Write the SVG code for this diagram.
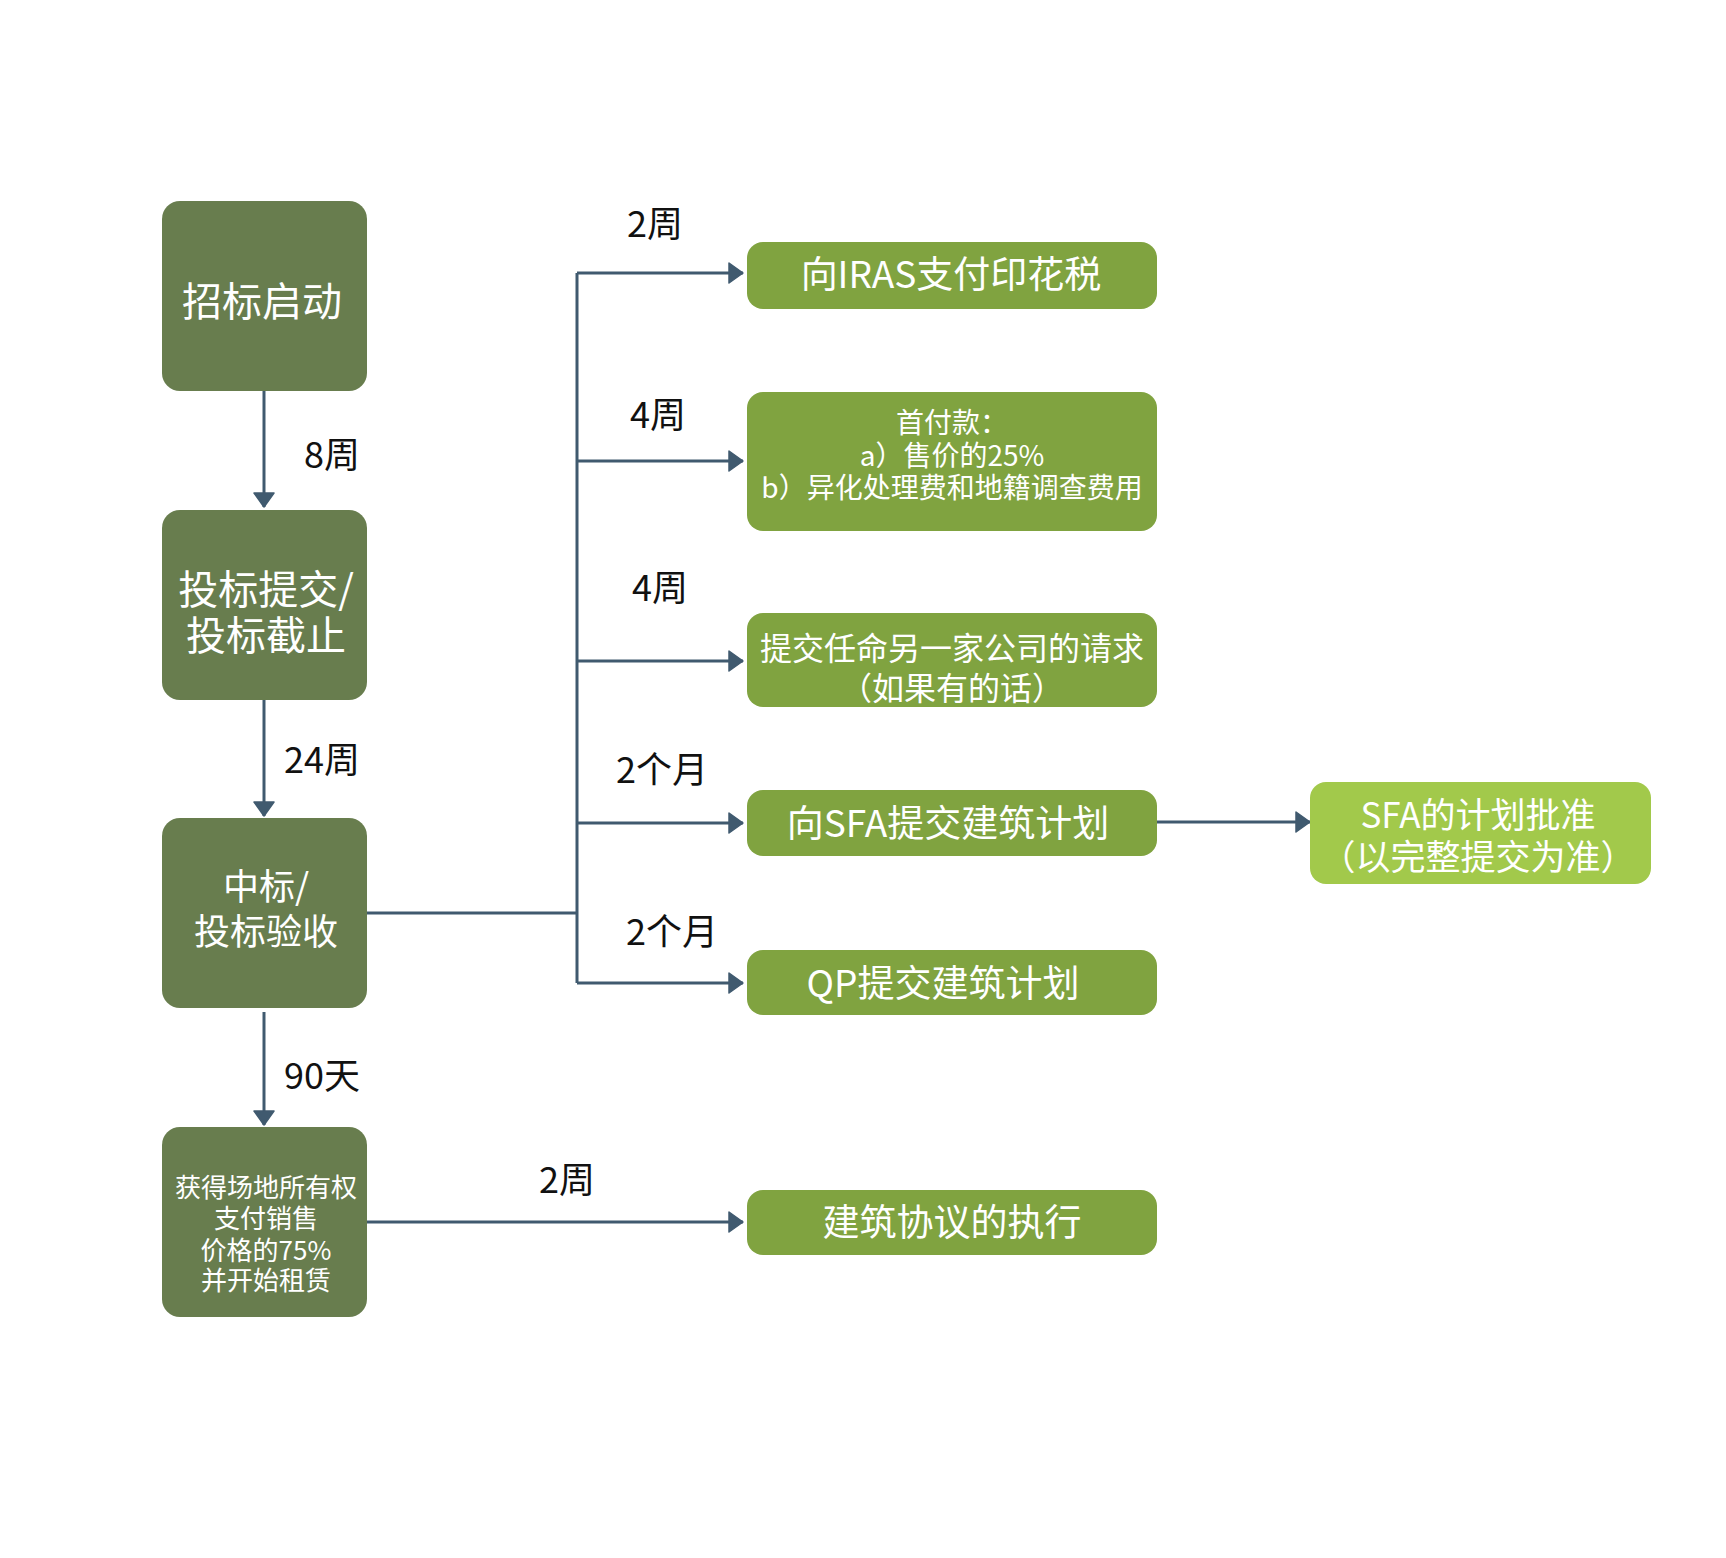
<svg xmlns="http://www.w3.org/2000/svg" width="1726" height="1558" viewBox="0 0 1726 1558">
<style>
text{font-family:"Noto Sans CJK SC","Noto Sans",sans-serif}
.dark{fill:#687d4e}
.mid{fill:#80a340}
.light{fill:#a2c94b}
.nt{fill:#ffffff;text-anchor:middle}
.lbl{fill:#111111;font-size:36px}
.conn{stroke:#405a6f;stroke-width:3;fill:none}
</style>
<defs>
<marker id="ah" markerUnits="userSpaceOnUse" markerWidth="16" markerHeight="22" refX="15" refY="11" orient="auto">
<path d="M1,1 L15,11 L1,21 z" fill="#405a6f" stroke="#405a6f" stroke-width="1.5" stroke-linejoin="round"/>
</marker>
</defs>
<rect width="1726" height="1558" fill="#ffffff"/>
<g id="connectors">
<line class="conn" x1="264" y1="391" x2="264" y2="507" marker-end="url(#ah)"/>
<line class="conn" x1="264" y1="700" x2="264" y2="816" marker-end="url(#ah)"/>
<line class="conn" x1="264" y1="1012" x2="264" y2="1125" marker-end="url(#ah)"/>
<line class="conn" x1="367" y1="913" x2="577" y2="913"/>
<line class="conn" x1="577" y1="273" x2="577" y2="983"/>
<line class="conn" x1="577" y1="273" x2="743" y2="273" marker-end="url(#ah)"/>
<line class="conn" x1="577" y1="461" x2="743" y2="461" marker-end="url(#ah)"/>
<line class="conn" x1="577" y1="661" x2="743" y2="661" marker-end="url(#ah)"/>
<line class="conn" x1="577" y1="823" x2="743" y2="823" marker-end="url(#ah)"/>
<line class="conn" x1="577" y1="983" x2="743" y2="983" marker-end="url(#ah)"/>
<line class="conn" x1="367" y1="1222" x2="743" y2="1222" marker-end="url(#ah)"/>
<line class="conn" x1="1157" y1="822" x2="1310" y2="822" marker-end="url(#ah)"/>
<text class="lbl" x="360" y="468" text-anchor="end">8周</text>
<text class="lbl" x="360" y="773" text-anchor="end">24周</text>
<text class="lbl" x="360" y="1089" text-anchor="end">90天</text>
<text class="lbl" x="627" y="237">2周</text>
<text class="lbl" x="630" y="428">4周</text>
<text class="lbl" x="632" y="601">4周</text>
<text class="lbl" x="616" y="783">2个月</text>
<text class="lbl" x="626" y="945">2个月</text>
<text class="lbl" x="539" y="1193">2周</text>
</g>
<g id="n1">
<rect class="dark" x="162" y="201" width="205" height="190" rx="18"/>
<text class="nt" x="262" y="316" font-size="40">招标启动</text>
</g>
<g id="n2">
<rect class="dark" x="162" y="510" width="205" height="190" rx="18"/>
<text class="nt" x="266" y="604" font-size="40">投标提交/</text>
<text class="nt" x="266" y="650" font-size="40">投标截止</text>
</g>
<g id="n3">
<rect class="dark" x="162" y="818" width="205" height="190" rx="18"/>
<text class="nt" x="266" y="900" font-size="36">中标/</text>
<text class="nt" x="266" y="945" font-size="36">投标验收</text>
</g>
<g id="n4">
<rect class="dark" x="162" y="1127" width="205" height="190" rx="18"/>
<text class="nt" x="266" y="1197" font-size="26">获得场地所有权</text>
<text class="nt" x="266" y="1228" font-size="26">支付销售</text>
<text class="nt" x="266" y="1260" font-size="26">价格的75%</text>
<text class="nt" x="266" y="1290" font-size="26">并开始租赁</text>
</g>
<g id="r1">
<rect class="mid" x="747" y="242" width="410" height="67" rx="16"/>
<text class="nt" x="951" y="288" font-size="37">向IRAS支付印花税</text>
</g>
<g id="r2">
<rect class="mid" x="747" y="392" width="410" height="139" rx="16"/>
<text class="nt" x="952" y="433" font-size="28">首付款：</text>
<text class="nt" x="952" y="466" font-size="28">a）售价的25%</text>
<text class="nt" x="952" y="498" font-size="28">b）异化处理费和地籍调查费用</text>
</g>
<g id="r3">
<rect class="mid" x="747" y="613" width="410" height="94" rx="16"/>
<text class="nt" x="952" y="660" font-size="32">提交任命另一家公司的请求</text>
<text class="nt" x="952" y="700" font-size="32">（如果有的话）</text>
</g>
<g id="r4">
<rect class="mid" x="747" y="790" width="410" height="66" rx="16"/>
<text class="nt" x="948" y="837" font-size="37">向SFA提交建筑计划</text>
</g>
<g id="r5">
<rect class="mid" x="747" y="950" width="410" height="65" rx="16"/>
<text class="nt" x="943" y="997" font-size="37">QP提交建筑计划</text>
</g>
<g id="r6">
<rect class="mid" x="747" y="1190" width="410" height="65" rx="16"/>
<text class="nt" x="952" y="1236" font-size="37">建筑协议的执行</text>
</g>
<g id="r7">
<rect class="light" x="1310" y="782" width="341" height="102" rx="16"/>
<text class="nt" x="1478" y="828" font-size="35">SFA的计划批准</text>
<text class="nt" x="1478" y="870" font-size="35">（以完整提交为准）</text>
</g>
</svg>
